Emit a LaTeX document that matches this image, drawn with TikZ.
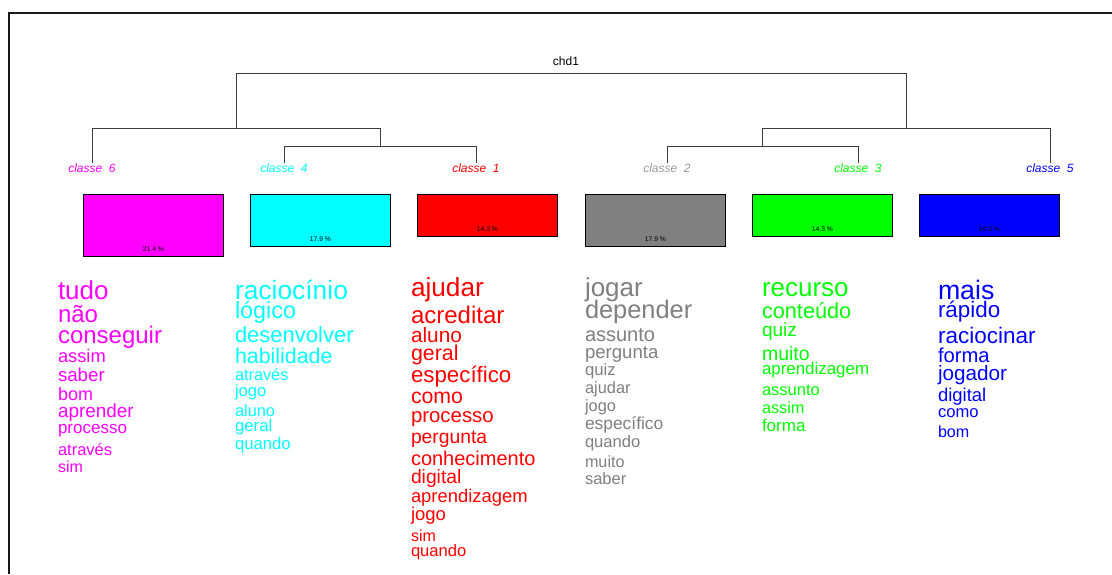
\documentclass[tikz,border=0pt]{standalone}
\usepackage{fontspec}
\setmainfont{Liberation Sans}
\definecolor{cmag}{RGB}{255,0,255}
\definecolor{ccyan}{RGB}{0,255,255}
\definecolor{cred}{RGB}{255,0,0}
\definecolor{cgray}{RGB}{128,128,128}
\definecolor{cgreen}{RGB}{0,255,0}
\definecolor{cblue}{RGB}{0,0,255}
\definecolor{treeline}{RGB}{60,60,60}
\begin{document}
\begin{tikzpicture}[x=1pt,y=-1pt,
  word/.style={anchor=base west, inner sep=0pt, outer sep=0pt},
  clab/.style={font=\fontsize{12}{12}\selectfont\itshape, inner sep=0pt, anchor=base},
  branch/.style={draw=treeline, line width=0.9pt},
  classbox/.style={draw=black, line width=0.8pt, anchor=north west, inner sep=0pt, minimum width=140pt},
  pct/.style={font=\fontsize{6.8}{6.8}\selectfont, text=black, inner sep=0pt}]
\useasboundingbox (0,0) rectangle (1112,574);
\fill[white] (0,0) rectangle (1112,574);
% frame
\draw[line width=2pt, black!90] (9,574) -- (9,13) -- (1112,13);
% title
\node[font=\fontsize{12}{12}\selectfont, anchor=base, inner sep=0pt] (title) at (566,65) {chd1};
% tree coordinates
\coordinate (root) at (571,73);
\coordinate (jL) at (236,128);
\coordinate (jR) at (906,128);
\coordinate (jL2) at (380,146);
\coordinate (jR2) at (762,146);
% leaf labels
\node[clab, text=cmag]  (l6) at (92,172)   {classe~~6};
\node[clab, text=ccyan] (l4) at (284,172)  {classe~~4};
\node[clab, text=cred]  (l1) at (476,172)  {classe~~1};
\node[clab, text=cgray!80] (l2) at (667,172)  {classe~~2};
\node[clab, text=cgreen] (l3) at (858,172) {classe~~3};
\node[clab, text=cblue] (l5) at (1050,172) {classe~~5};
% branches
\draw[branch] (jL) -- (jL|-root) -- (jR|-root) -- (jR);
\draw[branch] (l6.north) -- (l6.north|-jL) -- (jL2|-jL) -- (jL2);
\draw[branch] (l4.north) -- (l4.north|-jL2) -- (l1.north|-jL2) -- (l1.north);
\draw[branch] (jR2) -- (jR2|-jR) -- (l5.north|-jR) -- (l5.north);
\draw[branch] (l2.north) -- (l2.north|-jR2) -- (l3.north|-jR2) -- (l3.north);
% boxes
\node[classbox, fill=cmag,  minimum height=62pt] (b6) at (83,194) {};
\node[classbox, fill=ccyan, minimum height=52pt] (b4) at (250,194) {};
\node[classbox, fill=cred,  minimum height=42pt] (b1) at (417,194) {};
\node[classbox, fill=cgray, minimum height=52pt] (b2) at (585,194) {};
\node[classbox, fill=cgreen, minimum height=42pt] (b3) at (752,194) {};
\node[classbox, fill=cblue, minimum height=42pt] (b5) at (919,194) {};
\node[pct] (p6) at ([yshift=8pt]b6.south) {21.4 \%};
\node[pct] (p4) at ([yshift=8pt]b4.south) {17.9 \%};
\node[pct] (p1) at ([yshift=8pt]b1.south) {14.3 \%};
\node[pct] (p2) at ([yshift=8pt]b2.south) {17.9 \%};
\node[pct] (p3) at ([yshift=8pt]b3.south) {14.3 \%};
\node[pct] (p5) at ([yshift=8pt]b5.south) {14.3 \%};
% word lists
\foreach \s/\y/\w [count=\i] in {26/299/tudo, 24/322/não, 24/343/conseguir, 18.3/362/assim, 18.7/381/saber, 18/400/bom, 18.9/417/aprender, 17/433/processo, 16.5/455/através, 16/472/sim}
  \node[word, text=cmag, font=\fontsize{\s}{\s}\selectfont] (w6-\i) at (58,\y) {\w};
\foreach \s/\y/\w [count=\i] in {26.4/299/raciocínio, 23.4/318/lógico, 22/342/desenvolver, 21.4/363/habilidade, 16.3/380/através, 16.6/396/jogo, 16.4/416/aluno, 16.8/431/geral, 16.7/449/quando}
  \node[word, text=ccyan, font=\fontsize{\s}{\s}\selectfont] (w4-\i) at (235,\y) {\w};
\foreach \s/\y/\w [count=\i] in {26.2/296/ajudar, 24/323/acreditar, 20.8/342/aluno, 21.4/360/geral, 22.3/382/específico, 21.3/403/como, 20.4/422/processo, 19.3/443/pergunta, 20/465/conhecimento, 19.3/483/digital, 18.4/502/aprendizagem, 18.5/520/jogo, 16/541/sim, 16.6/556/quando}
  \node[word, text=cred, font=\fontsize{\s}{\s}\selectfont] (w1-\i) at (411,\y) {\w};
\foreach \s/\y/\w [count=\i] in {26/296/jogar, 25.4/318/depender, 20/341/assunto, 18.6/358/pergunta, 16.7/375/quiz, 16.4/393/ajudar, 16.4/411/jogo, 17.4/429/específico, 16.6/447/quando, 16.2/467/muito, 16.5/484/saber}
  \node[word, text=cgray, font=\fontsize{\s}{\s}\selectfont] (w2-\i) at (585,\y) {\w};
\foreach \s/\y/\w [count=\i] in {26/296/recurso, 21.7/318/conteúdo, 19.1/336/quiz, 19.5/360/muito, 16.9/374/aprendizagem, 16.5/395/assunto, 16.3/413/assim, 17/431/forma}
  \node[word, text=cgreen, font=\fontsize{\s}{\s}\selectfont] (w3-\i) at (762,\y) {\w};
\foreach \s/\y/\w [count=\i] in {26.7/299/mais, 22.4/317/rápido, 22.5/343/raciocinar, 20.2/362/forma, 20.7/380/jogador, 18.5/401/digital, 16.6/417/como, 16.1/437/bom}
  \node[word, text=cblue, font=\fontsize{\s}{\s}\selectfont] (w5-\i) at (938,\y) {\w};
\end{tikzpicture}
\end{document}
